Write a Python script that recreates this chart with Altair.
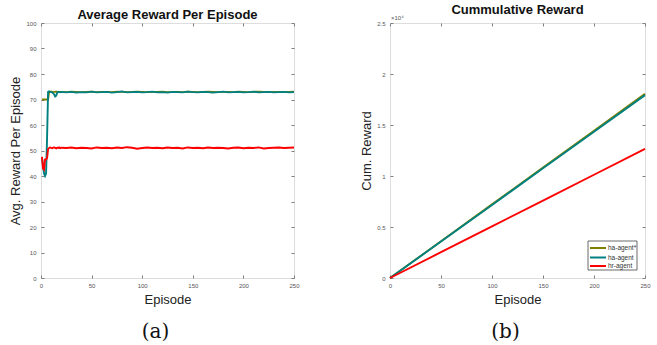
import altair as alt
import pandas as pd

# ---------------- data ----------------
ep_early = list(range(1, 21))
ep_late = list(range(25, 251, 5))
episodes = ep_early + ep_late

avg_ha_star = [70, 70, 70, 70, 70, 70, 70, 73, 73, 73.1, 73, 72.9, 73, 73, 73.1, 73, 72.9, 73, 73, 73,
               72.9, 73.1, 73, 72.9, 73, 73.1, 72.9, 73, 73, 72.9, 73.1, 73, 72.9, 73, 73.1, 73,
               72.9, 73, 73, 73.1, 72.9, 73, 73, 72.9, 73.1, 73, 72.9, 73, 73.1, 73, 72.9, 73, 73,
               72.9, 73.1, 73, 72.9, 73, 73.1, 73, 72.9, 73, 73, 72.9, 73, 73.1]
avg_ha = [47, 44, 41, 40, 41, 55, 73, 73.2, 73, 72.9, 72.8, 72.5, 72, 71.2, 71.5, 72.6, 73, 72.9, 72.8, 73,
          72.8, 73, 72.7, 72.9, 72.8, 73.1, 72.8, 72.9, 73, 72.7, 72.9, 73.2, 72.8, 72.9, 73, 72.8,
          72.9, 73.1, 72.8, 72.9, 72.7, 73, 72.9, 72.8, 73.1, 72.9, 72.8, 73, 72.9, 72.7, 72.9, 73.1,
          72.8, 72.9, 73, 72.8, 72.9, 73.1, 72.8, 72.9, 73, 72.8, 72.9, 73, 72.8, 72.9]
avg_hr = [47.5, 43, 42.5, 46.5, 46.5, 47, 50.5, 51, 51.2, 51, 50.9, 51.1, 51.2, 51, 50.8, 51.1, 51, 51.2, 50.9, 51.1,
          51, 51.2, 50.9, 51.1, 51, 50.8, 51.2, 51, 51.1, 50.9, 51.2, 51, 51.3, 51.1, 50.7, 51, 51.2,
          51, 51.1, 50.9, 51.2, 51, 51.1, 50.8, 51.2, 51, 51.1, 50.9, 51.2, 51, 51.1, 51, 50.8,
          51.1, 51.2, 50.9, 51.1, 51, 51.2, 50.8, 51, 51.1, 51.2, 51, 51.1, 51.2]

cum_ep = [0, 50, 100, 150, 200, 250]
cum_ha_star = [0, 3600, 7220, 10830, 14440, 18050]
cum_ha = [0, 3570, 7160, 10750, 14340, 17930]
cum_hr = [0, 2530, 5060, 7590, 10120, 12650]

series_names = ["ha-agent*", "ha-agent", "hr-agent"]
series_colors = ["#808000", "#008080", "#ff0000"]

y_ticks_avg = [0, 10, 20, 30, 40, 50, 60, 70, 80, 90, 100]
y_ticks_cum = [0, 5000, 10000, 15000, 20000, 25000]
x_ticks = [0, 50, 100, 150, 200, 250]

# ---------------- tables ----------------
avg_df = pd.concat([
    pd.DataFrame({"Episode": episodes, "Value": vals, "Agent": name})
    for name, vals in zip(series_names, [avg_ha_star, avg_ha, avg_hr])
], ignore_index=True)

cum_df = pd.concat([
    pd.DataFrame({"Episode": cum_ep, "Value": vals, "Agent": name})
    for name, vals in zip(series_names, [cum_ha_star, cum_ha, cum_hr])
], ignore_index=True)

FONT = "Liberation Sans"
LABEL_COLOR = "#555555"
AX_COLOR = "#808080"

color_scale = alt.Scale(domain=series_names, range=series_colors)
one_row = pd.DataFrame({"a": [0]})


def panel(df, ydomain, yticks, ytitle, sub, w, h, ylabel_expr=None):
    xscale = alt.Scale(domain=[0, 250], nice=False)
    yscale = alt.Scale(domain=ydomain, nice=False)
    yaxis_kwargs = dict(values=yticks, grid=False, domain=False, tickSize=3, offset=-3,
                        tickColor=AX_COLOR, labelFontSize=6, labelColor=LABEL_COLOR,
                        labelFont=FONT, labelPadding=5, title=ytitle, titleFont=FONT,
                        titleFontSize=13, titleFontWeight="normal", titleColor="#222222",
                        titlePadding=3)
    if ylabel_expr:
        yaxis_kwargs["labelExpr"] = ylabel_expr
    lines = alt.Chart(df).mark_line(strokeWidth=1.9).encode(
        x=alt.X("Episode:Q", scale=xscale,
                axis=alt.Axis(values=x_ticks, grid=False, domain=False, tickSize=3, offset=-3,
                              tickColor=AX_COLOR, labelFontSize=6, labelColor=LABEL_COLOR,
                              labelFont=FONT, labelPadding=4, title="Episode", titleFont=FONT,
                              titleFontSize=13, titleFontWeight="normal", titleColor="#222222",
                              titlePadding=5, labelFlush=False)),
        y=alt.Y("Value:Q", scale=yscale, axis=alt.Axis(**yaxis_kwargs)),
        color=alt.Color("Agent:N", scale=color_scale, sort=series_names, legend=None),
        order=alt.Order("Episode:Q"),
    )
    ghost = alt.Chart(df).mark_line(opacity=0).encode(
        x=alt.X("Episode:Q", scale=xscale,
                axis=alt.Axis(orient="top", values=x_ticks, grid=False, domain=False, labels=False,
                              tickSize=3, offset=-3, tickColor=AX_COLOR, title=None,
                              labelPadding=0)),
        y=alt.Y("Value:Q", scale=yscale,
                axis=alt.Axis(orient="right", values=yticks, grid=False, domain=False, labels=False,
                              tickSize=3, offset=-3, tickColor=AX_COLOR, title=None,
                              labelPadding=0)),
    )
    caption = alt.Chart(pd.DataFrame({"t": [sub]})).mark_text(
        font="DejaVu Serif", fontSize=20, baseline="middle", align="center", color="#111111"
    ).encode(text="t:N", x=alt.value(w / 2 - 12), y=alt.value(h + 54))
    return [ghost, lines, caption]


W_L, W_R, H = 253, 255, 255

left = alt.layer(*panel(avg_df, [0, 100], y_ticks_avg, "Avg. Reward Per Episode", "(a)", W_L, H)
                 ).resolve_axis(x="independent", y="independent").properties(
    width=W_L, height=H,
    title=alt.TitleParams("Average Reward Per Episode", font=FONT, fontSize=13, fontWeight="bold",
                          color="#111111", offset=-2, anchor="middle"))

right_layers = panel(cum_df, [0, 25000], y_ticks_cum, "Cum. Reward", "(b)", W_R, H,
                     ylabel_expr="datum.value / 10000")

# exponent label
right_layers.append(
    alt.Chart(pd.DataFrame({"t": ["×10⁴"]})).mark_text(
        font=FONT, fontSize=6, align="left", baseline="bottom", color=LABEL_COLOR
    ).encode(text="t:N", x=alt.value(1), y=alt.value(-2)))

# legend box (drawn inside the plot, bottom-right)
LX0, LX1, LY0, LY1 = 198, 247, 218, 247
right_layers.append(
    alt.Chart(one_row).mark_rect(fill="white", stroke="#444444", strokeWidth=0.8).encode(
        x=alt.value(LX0), x2=alt.value(LX1), y=alt.value(LY0), y2=alt.value(LY1)))
row_y = [225, 234.5, 243]
for name, col, ry in zip(series_names, series_colors, row_y):
    right_layers.append(
        alt.Chart(one_row).mark_rule(color=col, strokeWidth=2).encode(
            x=alt.value(LX0 + 2), x2=alt.value(LX0 + 18), y=alt.value(ry)))
    right_layers.append(
        alt.Chart(pd.DataFrame({"t": [name]})).mark_text(
            font=FONT, fontSize=6.5, align="left", baseline="middle", color="#333333"
        ).encode(text="t:N", x=alt.value(LX0 + 20), y=alt.value(ry)))

right = alt.layer(*right_layers).resolve_axis(x="independent", y="independent").properties(
    width=W_R, height=H,
    title=alt.TitleParams("Cummulative Reward", font=FONT, fontSize=13, fontWeight="bold",
                          color="#111111", offset=-2, anchor="middle"))

chart = alt.hconcat(left, right, spacing=60).properties(
    padding={"left": 9, "top": 3, "right": 5, "bottom": 0}
).configure_view(stroke=AX_COLOR, strokeWidth=1).configure(background="white")

chart.save("out.html", embed_options={"renderer": "svg", "actions": False})
